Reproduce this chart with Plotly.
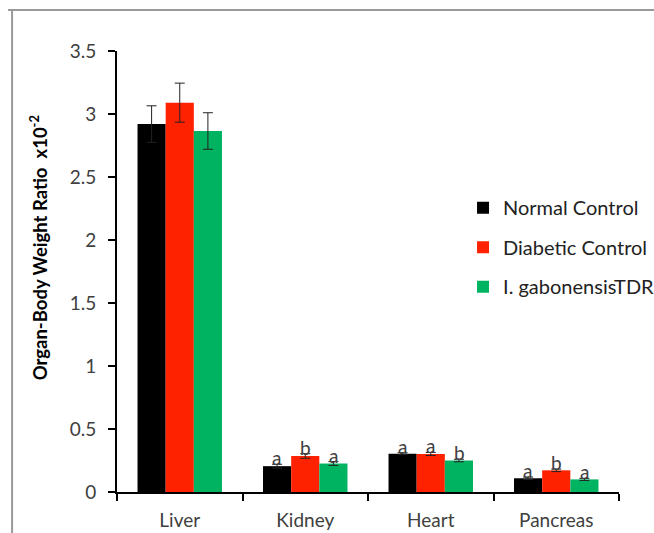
import plotly.graph_objects as go

categories = ["Liver", "Kidney", "Heart", "Pancreas"]
series_names = ["Normal Control", "Diabetic Control", "I. gabonensisTDR"]
normal = [2.92, 0.205, 0.304, 0.109]
diabetic = [3.09, 0.286, 0.302, 0.172]
gabon = [2.865, 0.226, 0.250, 0.100]
normal_err = [0.145, 0.015, 0.008, 0.010]
diabetic_err = [0.155, 0.018, 0.012, 0.010]
gabon_err = [0.145, 0.015, 0.010, 0.008]
normal_letters = ["", "a", "a", "a"]
diabetic_letters = ["", "b", "a", "b"]
gabon_letters = ["", "a", "b", "a"]
colors = ["#000000", "#ff2200", "#00b361"]
y_ticks = [0, 0.5, 1, 1.5, 2, 2.5, 3, 3.5]
y_tick_text = ["0", "0.5", "1", "1.5", "2", "2.5", "3", "3.5"]

values = [normal, diabetic, gabon]
errs = [normal_err, diabetic_err, gabon_err]
letters = [normal_letters, diabetic_letters, gabon_letters]

FONT = "Lato, 'Open Sans', sans-serif"
fig = go.Figure()
for i, name in enumerate(series_names):
    fig.add_trace(go.Bar(
        x=categories, y=values[i], name=name,
        marker=dict(color=colors[i], line=dict(width=0)),
        error_y=dict(type="data", array=errs[i], color="#222222", thickness=1, width=5),
        legendgroup=f"g{i}",
    ))

bar_px = 28.3
for i in range(3):
    for j, cat in enumerate(categories):
        if letters[i][j]:
            fig.add_annotation(
                x=cat, y=values[i][j] + errs[i][j], text=letters[i][j],
                showarrow=False, xshift=(i - 1) * bar_px, yanchor="bottom", yshift=-7,
                font=dict(family=FONT, size=19, color="#404040"),
            )

fig.add_annotation(
    x=-0.157, y=0.553, xref="paper", yref="paper", textangle=-90,
    xanchor="center", yanchor="middle",
    text="<b>Organ-Body Weight Ratio  x10<sup>-2</sup></b>", showarrow=False,
    font=dict(family=FONT, size=18.5, color="#000000"),
)

# outer gray frame (top and left edges)
fig.add_shape(type="line", xref="paper", yref="paper", x0=-0.217, x1=1.1, y0=1.093, y1=1.093,
              line=dict(color="#999999", width=2))
fig.add_shape(type="line", xref="paper", yref="paper", x0=-0.209, x1=-0.209, y0=1.093, y1=-0.2,
              line=dict(color="#999999", width=2))

fig.update_layout(
    width=654, height=533,
    margin=dict(l=117, r=35, t=51, b=41, autoexpand=False),
    paper_bgcolor="white", plot_bgcolor="white",
    barmode="group", bargap=0.327, bargroupgap=0,
    showlegend=True,
    legend=dict(x=0.708, y=0.647, xref="container", yref="container",
                xanchor="left", yanchor="top",
                font=dict(family=FONT, size=20, color="#222222"),
                tracegroupgap=10.5, itemwidth=30, bgcolor="rgba(0,0,0,0)"),
    font=dict(family=FONT),
)
fig.update_xaxes(
    showline=True, linecolor="#000000", linewidth=2,
    ticks="outside", tickson="boundaries", ticklen=7, tickwidth=2, tickcolor="#000000",
    tickfont=dict(family=FONT, size=19, color="#404040"),
    ticklabelstandoff=10,
    showgrid=False, zeroline=False, automargin=False,
)
fig.update_yaxes(
    range=[0, 3.5], tickvals=y_ticks, ticktext=y_tick_text,
    showline=True, linecolor="#000000", linewidth=2,
    ticks="outside", ticklen=7, tickwidth=2, tickcolor="#000000",
    tickfont=dict(family=FONT, size=19, color="#404040"),
    ticklabelstandoff=8,
    showgrid=False, zeroline=False, automargin=False,
)

fig.write_html("out.html")
